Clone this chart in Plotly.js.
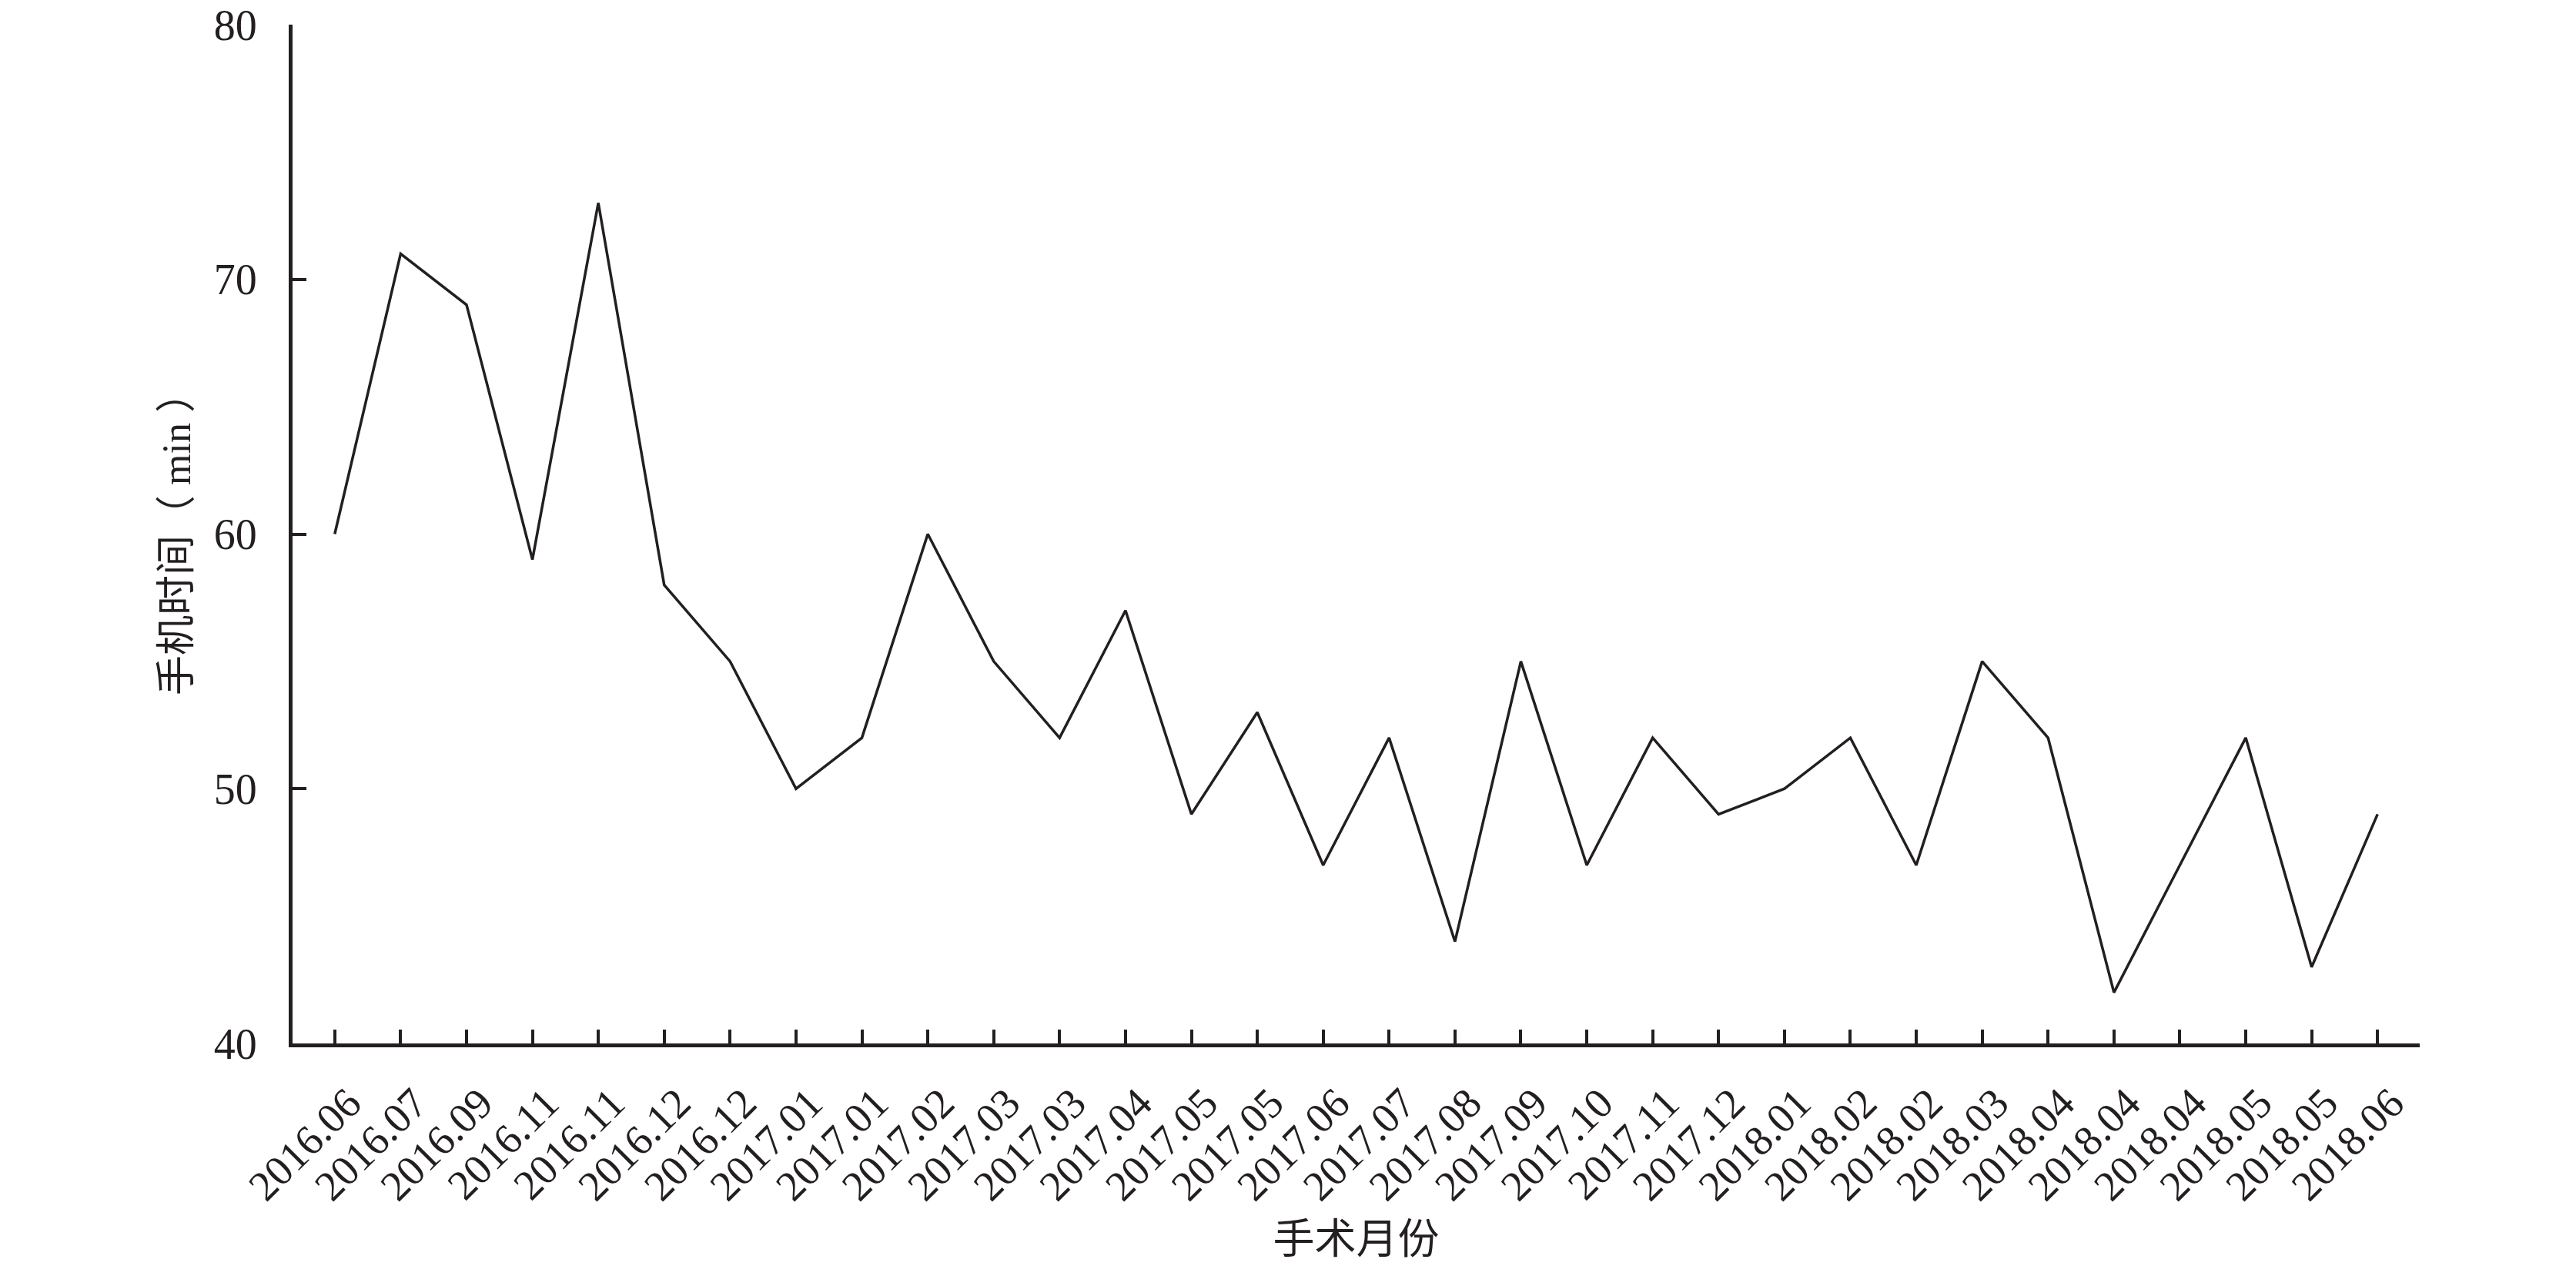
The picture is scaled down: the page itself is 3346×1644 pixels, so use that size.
<!DOCTYPE html>
<html>
<head>
<meta charset="utf-8">
<script src="https://cdn.plot.ly/plotly-3.0.1.min.js"></script>
<style>html,body{margin:0;padding:0;background:#fff;}#chart{width:3346px;height:1644px;}</style>
</head>
<body>
<div id="chart"></div>
<script>
const monthLabels = ["2016.06","2016.07","2016.09","2016.11","2016.11","2016.12","2016.12","2017.01","2017.01","2017.02","2017.03","2017.03","2017.04","2017.05","2017.05","2017.06","2017.07","2017.08","2017.09","2017.10","2017.11","2017.12","2018.01","2018.02","2018.02","2018.03","2018.04","2018.04","2018.04","2018.05","2018.05","2018.06"];
const phoneMinutes = [60,71,69,59,73,58,55,50,52,60,55,52,57,49,53,47,52,44,55,47,52,49,50,52,47,55,52,42,47,52,43,49];
const yTicks = [40,50,60,70,80];

const idx = monthLabels.map((_, i) => i);
const ink = '#231f20';
const fontFam = 'Liberation Serif, Noto Sans CJK SC, serif';

const trace = {
  x: idx,
  y: phoneMinutes,
  type: 'scatter',
  mode: 'lines',
  line: {color: ink, width: 3.5},
  hoverinfo: 'skip'
};

const layout = {
  width: 3346, height: 1644,
  margin: {l: 380, r: 203, t: 32, b: 289},
  paper_bgcolor: '#ffffff', plot_bgcolor: '#ffffff',
  showlegend: false,
  font: {family: fontFam, color: ink, size: 54},
  xaxis: {
    range: [-0.64, 31.64],
    tickmode: 'array', tickvals: idx, ticktext: monthLabels,
    tickangle: -45,
    ticks: 'inside', ticklen: 18, tickwidth: 4, tickcolor: ink,
    showline: true, linecolor: ink, linewidth: 5,
    showgrid: false, zeroline: false,
    ticklabelstandoff: 18,
    ticklabelshift: 18,
    tickfont: {family: fontFam, size: 55, color: ink},
    title: {text: '手术月份', font: {family: 'Noto Sans CJK SC, sans-serif', size: 54, color: ink}, standoff: 30}
  },
  yaxis: {
    range: [40, 80],
    tickmode: 'array', tickvals: yTicks, ticktext: yTicks.map(String),
    ticks: 'inside', ticklen: 18, tickwidth: 4, tickcolor: ink,
    showline: true, linecolor: ink, linewidth: 5,
    showgrid: false, zeroline: false,
    ticklabelstandoff: 30,
    tickfont: {family: fontFam, size: 56, color: ink},
    title: {text: '手机时间（ min ）', font: {family: fontFam, size: 52, color: ink}, standoff: 15}
  }
};

Plotly.newPlot('chart', [trace], layout, {displayModeBar: false, staticPlot: true});
</script>
</body>
</html>
